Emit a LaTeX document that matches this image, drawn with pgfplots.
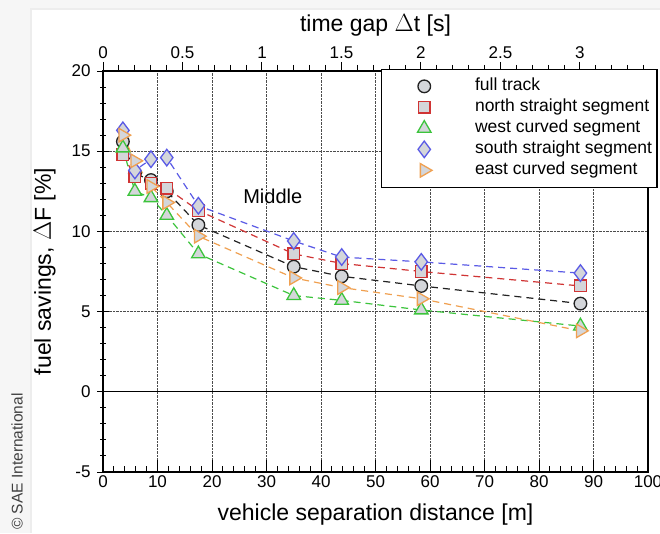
\documentclass[border=0pt]{standalone}
\usepackage{pgfplots}
\pgfplotsset{compat=1.18}
\usepackage{pgfplotstable}
\usepackage{fontspec}
\setmainfont{Liberation Sans}

\definecolor{cFull}{HTML}{222222}
\definecolor{cNorth}{HTML}{D03434}
\definecolor{cWest}{HTML}{3CC43C}
\definecolor{cSouth}{HTML}{5A5AE6}
\definecolor{cEast}{HTML}{F0A050}
\definecolor{mfill}{HTML}{D4D6DA}

% distance [m] vs fuel savings [%]
\pgfplotstableread{
d     full  north west  south east
3.65  15.6  14.8  15.2  16.3  16.0
5.85  13.6  13.4  12.5  13.8  14.4
8.8   13.2  13.0  12.1  14.5  12.8
11.7  12.5  12.7  11.0  14.6  11.8
17.5  10.4  11.3  8.6   11.6  9.7
35.0  7.8   8.6   6.0   9.4   7.1
43.8  7.2   8.0   5.7   8.4   6.5
58.4  6.6   7.5   5.1   8.1   5.8
87.6  5.5   6.6   4.1   7.4   3.8
}\savings

\pgfplotsset{
  dashln/.style={line width=1.2pt, dash pattern=on 7pt off 5pt},
  sFull/.style={cFull, mark=*, mark size=6.3pt, mark options={solid, fill=mfill, line width=1.3pt}},
  sNorth/.style={cNorth, mark=square*, mark size=5.8pt, mark options={solid, fill=mfill, line width=1.3pt}},
  sWest/.style={cWest, mark=triangle*, mark size=7.8pt, mark options={solid, fill=mfill, line width=1.3pt}},
  sSouth/.style={cSouth, mark=diamond*, mark size=8.3pt, mark options={solid, fill=mfill, line width=1.3pt}},
  sEast/.style={cEast, mark=triangle*, mark size=7.8pt, mark options={solid, rotate=-90, fill=mfill, line width=1.3pt}},
}

\begin{document}
\begin{tikzpicture}[x=1pt,y=1pt]
\useasboundingbox (-103,-61) rectangle (557,472);
\fill[gray!7] (-103,-61) rectangle (557,472);
\fill[gray!14] (-73,-61) rectangle (557,464);
\fill[white] (-71,-61) rectangle (557,462);
\node[rotate=90, text=black!75, font=\fontsize{15.5}{15.5}\selectfont, anchor=west, inner sep=0pt] at (-86,-58) {© SAE International};

% top axis: time gap
\begin{axis}[
  at={(0pt,0pt)}, anchor=south west,
  scale only axis, width=545pt, height=401pt,
  xmin=0, xmax=3.428, ymin=-5, ymax=20,
  axis x line*=top, hide y axis,
  axis line style={line width=1.2pt},
  xtick={0,0.5,...,3}, minor xtick={0.1,0.2,...,3.41},
  tick align=outside, major tick length=9pt, minor tick length=6pt,
  every tick/.style={black, line width=1pt},
  /pgf/number format/assume math mode=true,
  tick label style={font=\fontsize{17}{17}\selectfont},
  xlabel={time gap $\Delta$t [s]},
  xlabel style={font=\fontsize{23}{23}\selectfont, yshift=3pt},
]
\addplot[draw=none, forget plot] coordinates {(0,0)};
\end{axis}

% main axis: separation distance
\begin{axis}[
  at={(0pt,0pt)}, anchor=south west,
  scale only axis, width=545pt, height=401pt,
  xmin=0, xmax=100, ymin=-5, ymax=20,
  axis line style={line width=1.2pt},
  xtick={0,10,...,100}, ytick={-5,0,...,20},
  minor xtick={2,4,...,98}, minor ytick={-4,-3,...,19},
  xtick pos=bottom, ytick pos=left,
  xtick align=inside, ytick align=center,
  major tick length=12pt, minor tick length=6pt,
  every tick/.style={black, line width=1pt},
  grid=major,
  major grid style={densely dotted, line width=0.9pt, black!70},
  /pgf/number format/assume math mode=true,
  tick label style={font=\fontsize{17}{17}\selectfont},
  yticklabel style={xshift=-3pt},
  xlabel={vehicle separation distance [m]},
  ylabel={fuel savings, $\Delta$F [\%]},
  xlabel style={font=\fontsize{23}{23}\selectfont, yshift=-9pt},
  every axis y label/.style={at={(axis description cs:-0.107,0.5)}, rotate=90, anchor=center,
    font=\fontsize{23}{23}\selectfont},
  legend style={at={(1.018,1.006)}, anchor=north east, draw=black, line width=1.5pt,
    font=\fontsize{17.5}{17.5}\selectfont, inner xsep=3pt, inner ysep=6.5pt, row sep=0pt,
    nodes={text height=12.5pt, text depth=3.5pt, inner ysep=2.5pt, inner xsep=2pt}},
  legend cell align=left,
  legend image code/.code={\draw[#1] plot coordinates {(39pt,0pt)}; \path (0pt,0pt) (87pt,0pt);},
]
\addplot[black, line width=1pt, forget plot] coordinates {(0,0) (100,0)};

\addplot[sFull, dashln, forget plot] table[x=d, y=full] {\savings};
\addplot[sNorth, dashln, forget plot] table[x=d, y=north] {\savings};
\addplot[sWest, dashln, forget plot] table[x=d, y=west] {\savings};
\addplot[sSouth, dashln, forget plot] table[x=d, y=south] {\savings};
\addplot[sEast, dashln, forget plot] table[x=d, y=east] {\savings};

\addlegendimage{sFull}
\addlegendentry{full track}
\addlegendimage{sNorth}
\addlegendentry{north straight segment}
\addlegendimage{sWest}
\addlegendentry{west curved segment}
\addlegendimage{sSouth}
\addlegendentry{south straight segment}
\addlegendimage{sEast}
\addlegendentry{east curved segment}

\node[anchor=west, font=\fontsize{20}{20}\selectfont] at (axis cs:25.1,12.2) {Middle};
\end{axis}
\end{tikzpicture}
\end{document}
